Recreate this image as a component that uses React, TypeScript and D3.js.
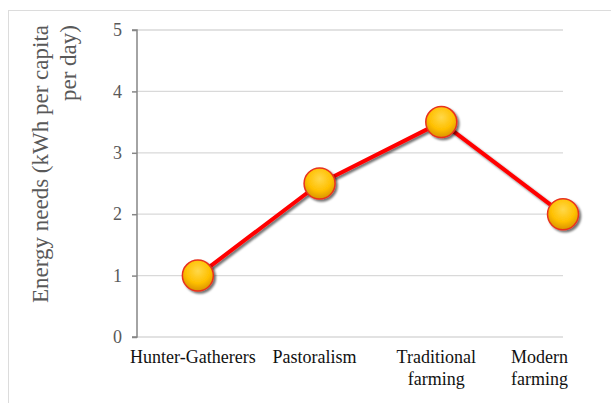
import * as d3 from "d3";
import { useRef, useEffect } from "react";

const WIDTH = 611;
const HEIGHT = 403;
const PLOT = { left: 137, right: 563, top: 30, bottom: 337 };
const FONT = "'Liberation Serif', 'Times New Roman', serif";

const categories = ["Hunter-Gatherers", "Pastoralism", "Traditional farming", "Modern farming"];
const labelLines = [["Hunter-Gatherers"], ["Pastoralism"], ["Traditional", "farming"], ["Modern", "farming"]];
const energy = [1, 2.5, 3.5, 2];
const yTicks = [0, 1, 2, 3, 4, 5];
const axisTitle = ["Energy needs (kWh per capita", "per day)"];

const EnergyChart = () => {
  const svgRef = useRef(null);

  useEffect(() => {
    const svg = d3.select(svgRef.current);
    svg.selectAll("*").remove(); // Clear previous render

    const defs = svg.append("defs");
    const shadow = defs.append("filter").attr("id", "shadow").attr("x", "-30%").attr("y", "-30%").attr("width", "160%").attr("height", "160%");
    shadow.append("feDropShadow").attr("dx", 2).attr("dy", 2).attr("stdDeviation", 1.3)
      .attr("flood-color", "#000").attr("flood-opacity", 0.55);
    const grad = defs.append("radialGradient").attr("id", "ball").attr("cx", "50%").attr("cy", "35%").attr("r", "65%");
    grad.append("stop").attr("offset", "0%").attr("stop-color", "#ffd84a");
    grad.append("stop").attr("offset", "60%").attr("stop-color", "#ffc000");
    grad.append("stop").attr("offset", "100%").attr("stop-color", "#d99200");

    // X positions: a point scale wider than the gridlines (last point sits on the grid end)
    const xScale = d3.scalePoint()
      .domain(categories)
      .range([PLOT.left, PLOT.right + (PLOT.right - PLOT.left) / 7])
      .padding(0.5);

    const yScale = d3.scaleLinear().domain([0, 5]).range([PLOT.bottom, PLOT.top]);

    // Frame
    svg.append("rect")
      .attr("x", 8.5).attr("y", 10.5).attr("width", 700).attr("height", 500)
      .attr("fill", "none").attr("stroke", "#dcdcdc").attr("stroke-width", 1);

    // Gridlines
    svg.append("g").selectAll("line")
      .data(yTicks)
      .join("line")
      .attr("x1", PLOT.left).attr("x2", PLOT.right)
      .attr("y1", (d) => yScale(d)).attr("y2", (d) => yScale(d))
      .attr("stroke", "#d9d9d9").attr("stroke-width", 1.3);

    // Y axis
    const yAxis = svg.append("g")
      .attr("transform", `translate(${PLOT.left},0)`)
      .call(d3.axisLeft(yScale).tickValues(yTicks).tickSize(5).tickPadding(10).tickFormat(d3.format("d")));
    yAxis.select(".domain").attr("stroke", "#868686").attr("stroke-width", 1.5).attr("d", `M-5,${PLOT.top}H0V${PLOT.bottom}H-5`);
    yAxis.selectAll(".tick line").attr("stroke", "#868686").attr("stroke-width", 1.5);
    yAxis.selectAll(".tick text")
      .attr("font-family", FONT)
      .attr("font-size", 18).attr("fill", "#595959");

    // Y axis title
    const title = svg.append("text")
      .attr("transform", "rotate(-90)")
      .attr("text-anchor", "end")
      .attr("font-family", FONT)
      .attr("font-size", 23).attr("fill", "#595959");
    axisTitle.forEach((line, i) => {
      title.append("tspan").attr("x", -25).attr("y", 48 + i * 28).text(line);
    });

    // Category labels
    labelLines.forEach((lines, i) => {
      const x0 = (xScale(categories[i]) ?? 0) - 5;
      const t = svg.append("text")
        .attr("text-anchor", "middle")
        .attr("font-family", FONT)
        .attr("font-size", 18).attr("fill", "#111");
      lines.forEach((line, j) => {
        t.append("tspan").attr("x", x0).attr("y", 363 + j * 22).text(line);
      });
      const half = (t.node() as SVGTextElement).getBBox().width / 2;
      // keep the last label inside the plot's right edge
      t.selectAll("tspan").attr("x", Math.min(x0, PLOT.right + 5 - half));
    });

    // Line
    const line = d3.line<number>()
      .x((d, i) => xScale(categories[i]) ?? 0)
      .y((d) => yScale(d));
    svg.append("path")
      .datum(energy)
      .attr("d", line)
      .attr("fill", "none")
      .attr("stroke", "#ff0000")
      .attr("stroke-width", 4)
      .attr("stroke-linejoin", "round")
      .attr("filter", "url(#shadow)");

    // Markers
    svg.append("g").selectAll("circle")
      .data(energy)
      .join("circle")
      .attr("cx", (d, i) => xScale(categories[i]) ?? 0)
      .attr("cy", (d) => yScale(d))
      .attr("r", 15.5)
      .attr("fill", "url(#ball)")
      .attr("stroke", "#e8321e")
      .attr("stroke-width", 1.5)
      .attr("filter", "url(#shadow)");
  }, []);

  return (
    <svg
      ref={svgRef}
      width={WIDTH}
      height={HEIGHT}
      style={{ position: "absolute", left: 0, top: 0, background: "#fff" }}
    />
  );
};

export default function App() {
  return <EnergyChart />;
}
